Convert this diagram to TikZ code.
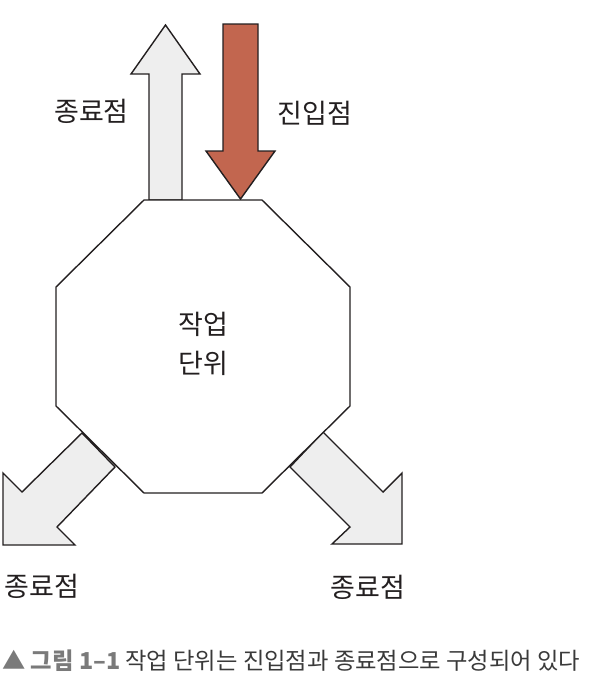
\documentclass[tikz,border=0pt]{standalone}
\usepackage{fontspec}
\setmainfont{Noto Sans CJK KR}
\usepackage{tikz}
\usetikzlibrary{positioning}

\definecolor{entryred}{HTML}{C2664F}
\definecolor{exitgray}{HTML}{EEEEEE}
\definecolor{inkdark}{HTML}{231F20}
\definecolor{capgray}{HTML}{7A7A7A}
\definecolor{captext}{HTML}{3A3A3A}

\begin{document}
\begin{tikzpicture}[x=1pt, y=-1pt,
			blockarrow/.style={draw=inkdark, line width=1.4pt, line join=miter, fill=exitgray},
			octa/.style={draw=inkdark, line width=1.4pt, line join=miter, fill=white},
			pointtext/.style={font=\fontsize{27}{39.5}\selectfont, text=inkdark, inner sep=0pt, align=center}]
			
			\useasboundingbox (0,0) rectangle (606,694);
			
			% exit (up) and entry (down) arrows
			\draw[blockarrow] (149,200) -- (149,74) -- (131,74) -- (165.5,25) -- (200,74) -- (182,74) -- (182,200) -- cycle;
			\draw[blockarrow, fill=entryred] (223,24) -- (258,24) -- (258,151) -- (275,151) -- (240.5,199) -- (206,151) -- (223,151) -- cycle;
			
			% exit arrows at the bottom
			\draw[blockarrow] (82,433) -- (22,492) -- (3,473) -- (3,545) -- (75,545) -- (57,527) -- (115,467) -- cycle;
			\draw[blockarrow] (323,432) -- (383,492) -- (402,473) -- (402,544) -- (332,544) -- (350,527) -- (290,467) -- cycle;
			
			% work unit
			\draw[octa] (144,200) -- (262,200) -- (350,287) -- (350,406) -- (262,493) -- (144,493) -- (56,406) -- (56,287) -- cycle;
			\node[pointtext] (unit) at (203,344) {작업\\단위};
			
			\node[pointtext] (exitup) at (91.5,111) {종료점};
			\node[pointtext] (entry) at (315,113) {진입점};
			\node[pointtext] (exitleft) at (42,586) {종료점};
			\node[pointtext] (exitright) at (368,587) {종료점};
			
			\node[anchor=west, inner sep=0pt, text=captext, font=\fontsize{23.3}{27}\selectfont] (caption) at (2,661)
				{{\bfseries\color{capgray}▲ 그림 1–1}\ 작업 단위는 진입점과 종료점으로 구성되어 있다};
			
		\end{tikzpicture}
\end{document}
